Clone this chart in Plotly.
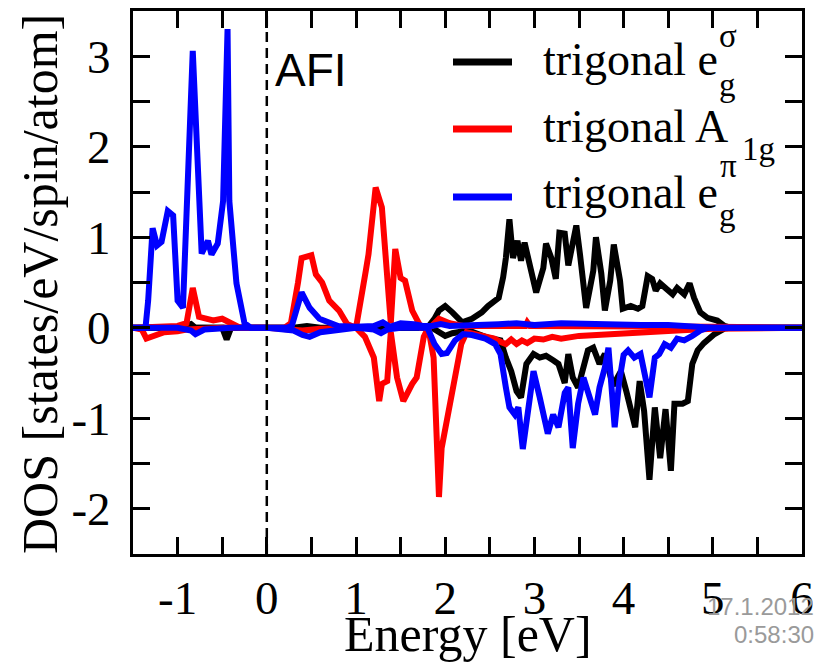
import plotly.graph_objects as go

# ---- DOS curves: energy (eV) and DOS (states/eV/spin/atom) ----
# trigonal e_g^sigma, spin up / spin down
eg_sigma_up_E = [-1.5, -1.0, -0.85, -0.8, -0.7, 0.0, 0.3, 0.45, 0.6, 1.8, 1.88, 1.93, 2.0, 2.08, 2.19,
                 2.30, 2.41, 2.48, 2.60, 2.65, 2.68, 2.72, 2.76, 2.81, 2.85, 2.89, 2.95, 3.02, 3.10,
                 3.13, 3.19, 3.24, 3.28, 3.34, 3.38, 3.47, 3.51, 3.58, 3.66, 3.69, 3.75, 3.79, 3.85,
                 3.89, 3.96, 3.99, 4.08, 4.16, 4.21, 4.27, 4.32, 4.36, 4.41, 4.49, 4.55, 4.60, 4.68,
                 4.74, 4.79, 4.86, 4.94, 5.05, 5.13, 5.2, 6.0]
eg_sigma_up_D = [0, 0, 0.04, 0.0, 0, 0, 0, 0.02, 0, 0, 0.1, 0.19, 0.24, 0.17, 0.06,
                 0.1, 0.17, 0.24, 0.33, 0.56, 0.77, 1.2, 0.77, 0.96, 0.74, 0.94, 0.66, 0.39, 0.66,
                 0.93, 0.77, 0.54, 1.05, 1.04, 0.69, 1.13, 0.82, 0.22, 0.63, 1.0, 0.6, 0.19, 0.52,
                 0.92, 0.52, 0.21, 0.24, 0.21, 0.24, 0.57, 0.54, 0.41, 0.49, 0.41, 0.37, 0.44, 0.37,
                 0.49, 0.33, 0.17, 0.11, 0.08, 0.02, 0, 0]
eg_sigma_dn_E = [-1.5, -0.5, -0.45, -0.4, 0.2, 0.35, 0.5, 0.7, 1.85, 1.93, 2.0, 2.08, 2.15, 2.26, 2.48,
                 2.62, 2.68, 2.74, 2.80, 2.85, 2.91, 2.99, 3.06, 3.13, 3.21, 3.27, 3.34, 3.38, 3.43,
                 3.49, 3.60, 3.66, 3.73, 3.79, 3.88, 3.97, 4.03, 4.13, 4.18, 4.23, 4.29, 4.35, 4.41,
                 4.47, 4.53, 4.57, 4.66, 4.72, 4.77, 4.83, 4.90, 5.02, 5.13, 5.2, 6.0]
eg_sigma_dn_D = [0, 0, -0.13, 0, 0, -0.03, -0.02, 0, 0, -0.05, -0.09, -0.06, -0.05, -0.03, -0.11,
                 -0.14, -0.33, -0.48, -0.70, -0.77, -0.40, -0.29, -0.33, -0.31, -0.36, -0.40, -0.61,
                 -0.29, -0.55, -0.66, -0.25, -0.22, -0.40, -0.29, -0.64, -0.48, -0.70, -1.10, -0.59,
                 -0.92, -1.68, -0.88, -1.44, -0.90, -1.58, -0.84, -0.84, -0.81, -0.40, -0.25, -0.17,
                 -0.07, -0.01, 0, 0]

# trigonal A_1g, spin up / spin down
a1g_up_E = [-1.5, -1.0, -0.9, -0.83, -0.76, -0.7, -0.6, -0.5, -0.42, -0.3, 0.2, 0.27, 0.35, 0.39,
            0.50, 0.55, 0.62, 0.70, 0.81, 0.90, 1.0, 1.06, 1.11, 1.14, 1.22, 1.29, 1.35, 1.39,
            1.44, 1.50, 1.55, 1.63, 1.73, 1.85, 1.93, 2.05, 2.2, 2.9, 2.92, 2.95, 5.0, 6.0]
a1g_up_D = [0, 0.02, 0.05, 0.44, 0.12, 0.1, 0.08, 0.1, 0.06, 0, 0, 0.05, 0.5, 0.77,
            0.80, 0.59, 0.50, 0.30, 0.19, 0.04, 0, 0.3, 0.63, 0.81, 1.55, 1.33, 0.63, 0.05,
            0.87, 0.55, 0.52, 0.19, 0.0, 0.02, 0.1, 0.05, 0.02, 0.02, 0.06, 0.02, 0.01, 0]
a1g_dn_E = [-1.5, -1.4, -1.35, -1.25, -1.15, -1.0, -0.9, -0.7, -0.5, 0.0, 0.2, 0.4, 0.6, 1.0,
            1.10, 1.20, 1.26, 1.29, 1.35, 1.39, 1.46, 1.53, 1.63, 1.68, 1.76, 1.81, 1.87, 1.93,
            1.96, 2.04, 2.11, 2.18, 2.24, 2.4, 2.55, 2.63, 2.68, 2.74, 2.80, 2.86, 2.92, 3.0,
            3.1, 3.2, 3.3, 3.5, 3.8, 4.2, 4.6, 5.0, 6.0]
a1g_dn_D = [0, -0.02, -0.12, -0.08, -0.05, -0.04, -0.02, -0.01, 0, 0, -0.02, -0.03, -0.01, 0,
            -0.1, -0.33, -0.81, -0.62, -0.59, -0.05, -0.55, -0.81, -0.62, -0.55, -0.1, 0, -0.33,
            -1.87, -1.33, -0.92, -0.62, -0.18, -0.05, -0.08, -0.12, -0.16, -0.18, -0.13, -0.18,
            -0.14, -0.17, -0.12, -0.13, -0.1, -0.12, -0.09, -0.07, -0.05, -0.03, -0.01, 0]

# trigonal e_g^pi, spin up / spin down
eg_pi_up_E = [-1.5, -1.36, -1.33, -1.28, -1.23, -1.18, -1.11, -1.05, -1.0, -0.94, -0.83, -0.79,
              -0.73, -0.66, -0.62, -0.55, -0.49, -0.44, -0.42, -0.34, -0.25, -0.18, 0.0, 0.22,
              0.28, 0.39, 0.48, 0.59, 0.8, 1.0, 1.2, 1.3, 1.38, 1.5, 1.65, 1.75, 1.85, 1.95,
              2.05, 2.2, 2.6, 2.8, 3.0, 3.3, 3.6, 3.9, 4.2, 4.5, 4.8, 5.0, 6.0]
eg_pi_up_D = [0, 0, 0.3, 1.10, 0.91, 0.95, 1.29, 1.24, 0.30, 0.22, 3.06, 2.03,
              0.82, 0.96, 0.81, 0.93, 1.40, 3.30, 1.40, 0.49, 0.05, 0, 0, 0,
              0.02, 0.39, 0.22, 0.10, 0.02, 0.01, 0.02, 0.06, 0.01, 0.05, 0.04, 0.02, 0.02, 0.04,
              0.02, 0.03, 0.04, 0.05, 0.03, 0.05, 0.04, 0.04, 0.03, 0.03, 0.02, 0, 0]
eg_pi_dn_E = [-1.5, -1.0, -0.85, -0.8, -0.7, -0.4, 0.0, 0.3, 0.4, 0.48, 0.6, 0.8, 1.0, 1.2,
              1.28, 1.35, 1.5, 1.8, 1.88, 1.96, 2.02, 2.11, 2.2, 2.3, 2.45, 2.56, 2.62, 2.68,
              2.72, 2.78, 2.82, 2.87, 2.93, 2.99, 3.06, 3.15, 3.21, 3.27, 3.34, 3.38, 3.43, 3.49,
              3.55, 3.60, 3.68, 3.73, 3.79, 3.83, 3.90, 3.95, 4.0, 4.05, 4.12, 4.19, 4.29, 4.35,
              4.40, 4.46, 4.53, 4.60, 4.68, 4.77, 4.86, 4.95, 6.0]
eg_pi_dn_D = [0, 0, -0.03, -0.07, -0.02, 0, 0, -0.03, -0.08, -0.1, -0.05, -0.02, 0, -0.02,
              -0.06, -0.02, 0, 0, -0.18, -0.29, -0.28, -0.14, -0.07, -0.08, -0.12, -0.18, -0.29,
              -0.66, -0.88, -0.96, -0.88, -1.34, -0.96, -0.48, -0.77, -1.17, -0.96, -1.10, -0.72,
              -0.66, -1.33, -0.84, -0.55, -0.72, -0.96, -0.66, -0.44, -0.22, -1.1, -0.6, -0.3,
              -0.25, -0.33, -0.29, -0.77, -0.33, -0.29, -0.18, -0.22, -0.12, -0.14, -0.09, -0.03,
              0, 0]

series = [
    ("trigonal e_g^sigma up", eg_sigma_up_E, eg_sigma_up_D, "#000000"),
    ("trigonal e_g^sigma down", eg_sigma_dn_E, eg_sigma_dn_D, "#000000"),
    ("trigonal A_1g up", a1g_up_E, a1g_up_D, "#ff0000"),
    ("trigonal A_1g down", a1g_dn_E, a1g_dn_D, "#ff0000"),
    ("trigonal e_g^pi up", eg_pi_up_E, eg_pi_up_D, "#0000ff"),
    ("trigonal e_g^pi down", eg_pi_dn_E, eg_pi_dn_D, "#0000ff"),
]

x_ticks = [-1.5 + 0.5 * i for i in range(16)]
y_ticks = [-2.5 + 0.5 * i for i in range(13)]
x_tick_text = ["%d" % v if float(v).is_integer() else "" for v in x_ticks]
y_tick_text = ["%d" % v if float(v).is_integer() else "" for v in y_ticks]

W, H = 816, 664
L, R, T, B = 133, 14, 11, 110
PW, PH = W - L - R, H - T - B


def px(x):
    return (x - L) / PW


def py(y):
    return (H - B - y) / PH


SERIF = "Times New Roman, Liberation Serif, serif"
SANS = "Arial, Liberation Sans, sans-serif"
NARROW = "Liberation Sans Narrow, Arial Narrow, Arial, sans-serif"

fig = go.Figure()
for name, e, d, c in series:
    fig.add_trace(go.Scatter(x=e, y=d, mode="lines", name=name,
                             line=dict(color=c, width=6), showlegend=False))

fig.add_vline(x=0, line=dict(color="black", width=2.5, dash="10px,6px"))

axis_common = dict(showline=True, linewidth=3, linecolor="black", mirror="allticks",
                   ticks="inside", ticklen=17, tickwidth=3, tickcolor="black",
                   showgrid=False, zeroline=False, automargin=False,
                   tickfont=dict(family=SERIF, size=47, color="black"))
fig.update_xaxes(range=[-1.5, 6], tickvals=x_ticks, ticktext=x_tick_text,
                 ticklabelstandoff=1, **axis_common)
fig.update_yaxes(range=[-2.5, 3.5], tickvals=y_ticks, ticktext=y_tick_text,
                 ticklabelstandoff=10, **axis_common)

# legend samples and labels
legend_rows = [("#000000", 62), ("#ff0000", 129), ("#0000ff", 197)]
for col, yy in legend_rows:
    fig.add_shape(type="line", xref="paper", yref="paper", x0=px(453), x1=px(512),
                  y0=py(yy), y1=py(yy), line=dict(color=col, width=7))

ann = []


def label(text, x, y, size, family=SERIF, color="black", xanchor="left", yanchor="middle",
          align="left", angle=0):
    ann.append(dict(text=text, x=px(x), y=py(y), xref="paper", yref="paper", showarrow=False,
                    xanchor=xanchor, yanchor=yanchor, align=align, textangle=angle,
                    font=dict(family=family, size=size, color=color)))


# axis titles
label("Energy [eV]", 468, 634, 50, xanchor="center")
label("DOS [states/eV/spin/atom]", 40, 284, 50, xanchor="center", angle=-90)

label("trigonal e", 541, 60, 46)
label("σ", 717, 36, 33)
label("g", 717, 85, 33)
label("trigonal A", 541, 126, 46)
label("1g", 740, 149, 33)
label("π", 718, 166, 33)
label("trigonal e", 541, 192, 46)
label("g", 717, 215, 33)
label("AFI", 273, 70, 46, family=SANS)
label("17.1.2012", 816, 606, 24, family=NARROW, color="#9a9a9a", xanchor="right")
label("0:58:30", 816, 634, 24, family=NARROW, color="#9a9a9a", xanchor="right")

fig.update_layout(width=W, height=H, margin=dict(l=L, r=R, t=T, b=B),
                  paper_bgcolor="white", plot_bgcolor="white", annotations=ann)

fig.write_html("out.html")
